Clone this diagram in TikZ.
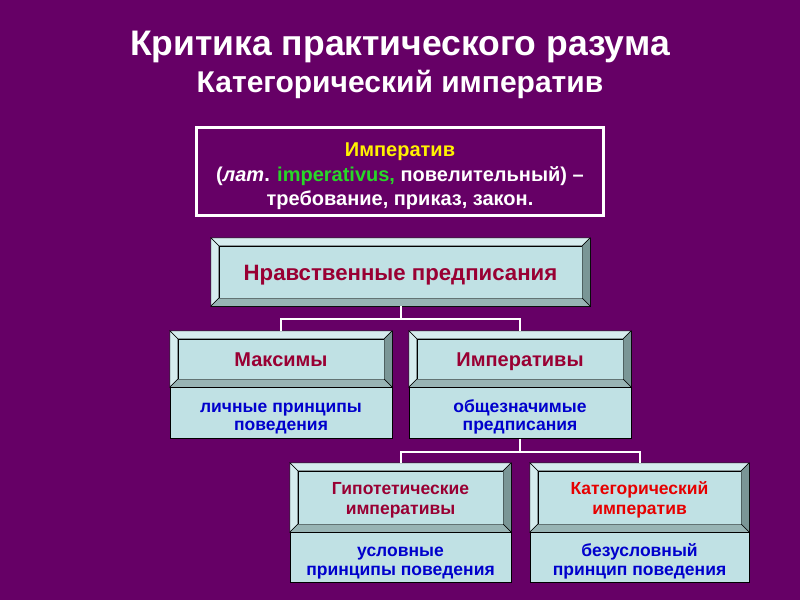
\documentclass[tikz,border=0pt]{standalone}
\usepackage{fontspec}
\setmainfont{Liberation Sans}
\usetikzlibrary{calc}
\definecolor{bg}{RGB}{102,0,102}
\definecolor{face}{RGB}{192,225,228}
\definecolor{bevlight}{RGB}{214,236,238}
\definecolor{bevmid}{RGB}{152,180,180}
\definecolor{bevdark}{RGB}{122,150,150}
\definecolor{boxred}{RGB}{153,0,51}
\definecolor{catred}{RGB}{230,0,0}
\definecolor{descblue}{RGB}{0,0,204}
\definecolor{latgreen}{RGB}{40,215,40}
\newcommand{\lift}[1]{\rule{0pt}{#1}}

\begin{document}
\begin{tikzpicture}[x=1pt,y=-1pt,font=\bfseries]
    \tikzstyle{frame}=[rectangle,draw=black,fill=face,inner sep=0pt]
    \tikzstyle{facebox}=[frame,text=boxred,align=center,font=\fontsize{20}{22}\selectfont\bfseries]
    \tikzstyle{oneline}=[text height=14pt,text depth=0pt]
    \tikzstyle{twoline}=[font=\fontsize{17.5}{20}\selectfont\bfseries]
    \tikzstyle{desc}=[frame,text=descblue,align=center,font=\fontsize{17.5}{18.5}\selectfont\bfseries]
    \tikzstyle{link}=[draw=white,line width=2pt]

\fill[bg] (0,0) rectangle (800,600);
\useasboundingbox (0,0) rectangle (800,600);

\node[text=white,font=\fontsize{35.5}{38}\selectfont\bfseries] (title) at (400,47) {Критика практического разума};
\node[text=white,font=\fontsize{30}{32}\selectfont\bfseries] (sub) at (400,84) {Категорический императив};

\node[draw=white,line width=3pt,minimum width=407,minimum height=88,align=center,text=white,
      font=\fontsize{20}{24.5}\selectfont\bfseries] (def) at (400,171.5)
  {\lift{24pt}\textcolor{yellow}{Императив}\\(\textit{лат}. \textcolor{latgreen}{imperativus,} повелительный) --\\требование, приказ, закон.};

% outer frames
\node[frame,minimum width=379,minimum height=68] (nr) at (400.5,272) {};
\node[frame,minimum width=222,minimum height=56] (max) at (281,359) {};
\node[frame,minimum width=222,minimum height=56] (imp) at (520,359) {};
\node[frame,minimum width=221,minimum height=69] (hyp) at (400.5,497.5) {};
\node[frame,minimum width=219,minimum height=69] (cat) at (639.5,497.5) {};

% faces
\node[facebox,oneline,text height=16pt,font=\fontsize{22.2}{24}\selectfont\bfseries,minimum width=363,minimum height=52] (nrf) at (nr) {Нравственные предписания};
\node[facebox,oneline,minimum width=206,minimum height=40] (maxf) at (max) {Максимы};
\node[facebox,oneline,minimum width=206,minimum height=40] (impf) at (imp) {Императивы};
\node[facebox,twoline,minimum width=205,minimum height=53] (hypf) at (hyp) {\lift{18pt}Гипотетические\\императивы};
\node[facebox,twoline,text=catred,minimum width=203,minimum height=53] (catf) at (cat) {\lift{18pt}Категорический\\императив};

\foreach \o/\i in {nr/nrf,max/maxf,imp/impf,hyp/hypf,cat/catf}{
  \filldraw[fill=bevlight] (\o.north west) -- (\o.north east) -- (\i.north east) -- (\i.north west) -- cycle;
  \filldraw[fill=bevlight] (\o.north west) -- (\i.north west) -- (\i.south west) -- (\o.south west) -- cycle;
  \filldraw[fill=bevdark] (\o.north east) -- (\o.south east) -- (\i.south east) -- (\i.north east) -- cycle;
  \filldraw[fill=bevmid] (\o.south west) -- (\o.south east) -- (\i.south east) -- (\i.south west) -- cycle;
}

% descriptions
\node[desc,minimum width=222,minimum height=51,anchor=north] (maxd) at (max.south) {\lift{21pt}личные принципы\\поведения};
\node[desc,minimum width=222,minimum height=51,anchor=north] (impd) at (imp.south) {\lift{21pt}общезначимые\\предписания};
\node[desc,minimum width=221,minimum height=50,anchor=north] (hypd) at (hyp.south) {\lift{21pt}условные\\принципы поведения};
\node[desc,minimum width=219,minimum height=50,anchor=north] (catd) at (cat.south) {\lift{21pt}безусловный\\принцип поведения};

\draw[link] (nr.south) -- ++(0,13) -| (max.north);
\draw[link] (nr.south) -- ++(0,13) -| (imp.north);
\draw[link] (impd.south) -- ++(0,13) -| (hyp.north);
\draw[link] (impd.south) -- ++(0,13) -| (cat.north);
\end{tikzpicture}
\end{document}
